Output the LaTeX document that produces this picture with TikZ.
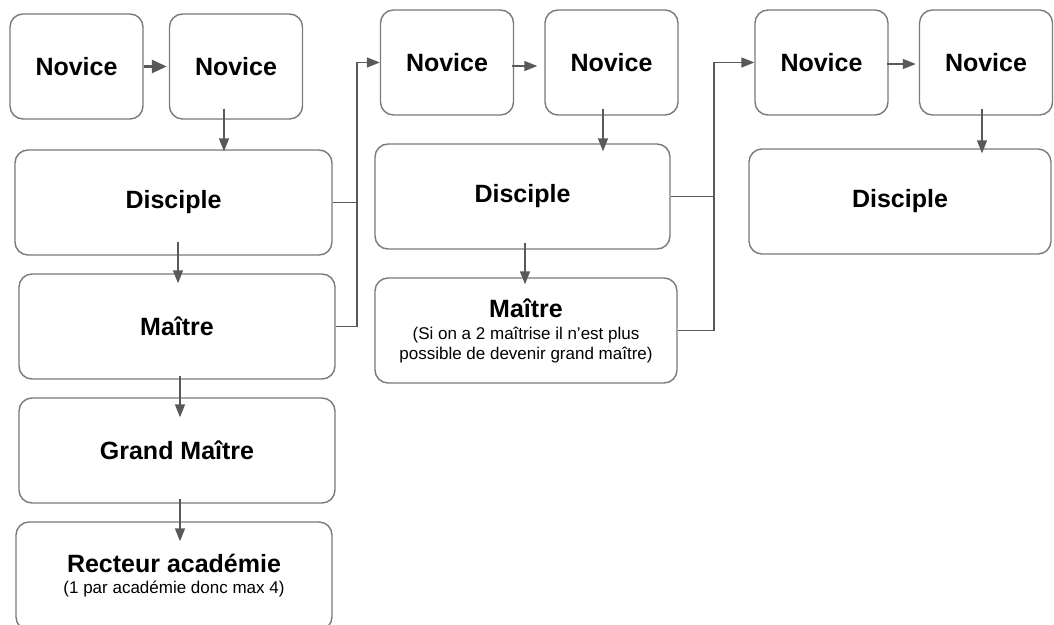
\documentclass[tikz,border=0pt]{standalone}
\usepackage{fontspec}
\setmainfont{Liberation Sans}
\usetikzlibrary{arrows.meta}

\definecolor{boxgray}{HTML}{7A7A7A}
\definecolor{arrgray}{HTML}{595959}

\newcommand{\subtxt}{\fontsize{17}{20}\selectfont\mdseries}

\begin{document}
\begin{tikzpicture}[x=1pt, y=-1pt,
    box/.style={draw=boxgray, line width=1.4pt, rounded corners=13pt,
      fill=white, inner sep=0pt, align=center,
      font=\fontsize{25}{30}\selectfont\bfseries},
    small/.style={box, minimum width=133pt, minimum height=105pt},
    wide/.style={box, minimum width=#1, minimum height=105pt},
    link/.style={draw=arrgray, line width=1.4pt},
    arr/.style={link, -{Triangle[length=13pt, width=10pt]}}]

  \useasboundingbox (0,0) rectangle (1054,624);

  \node[small] (nov1) at (76.5,66.5) {Novice};
  \node[small] (nov2) at (236,66.5) {Novice};
  \node[wide=317pt] (dis1) at (173.5,202.5) {Disciple};
  \node[wide=316pt] (mai1) at (177,326.5) {Maître};
  \node[wide=316pt] (gm1) at (177,450.5) {Grand Maître};
  \node[wide=316pt, minimum height=108pt] (rec1) at (174,576)
    {Recteur académie\\[-9pt]{\subtxt (1 par académie donc max 4)}};

  \node[small] (nov3) at (447,62.5) {Novice};
  \node[small] (nov4) at (611.5,62.5) {Novice};
  \node[wide=295pt] (dis2) at (522.5,196.5) {Disciple};
  \node[wide=302pt] (mai2) at (526,330.5)
    {Maître\\[-8pt]{\subtxt (Si on a 2 maîtrise il n’est plus}\\[-10pt]{\subtxt possible de devenir grand maître)}};

  \node[small] (nov5) at (821.5,62.5) {Novice};
  \node[small] (nov6) at (986,62.5) {Novice};
  \node[wide=302pt] (dis3) at (900,201.5) {Disciple};

  \coordinate (j1) at (357,202.5);
  \coordinate (j2) at (714,196.5);

  \draw[arr, line width=2.6pt, -{Triangle[length=15pt, width=13pt]}, shorten >=2pt]
    (nov1.east) -- (nov2.west);
  \draw[arr, shorten <=-11pt, shorten >=-2pt]
    ([xshift=-12pt]nov2.south) -- ([xshift=-12pt]nov2.south |- dis1.north);
  \draw[arr, shorten <=-14pt, shorten >=-10pt]
    ([xshift=4.5pt]dis1.south) -- ([xshift=4.5pt]dis1.south |- mai1.north);
  \draw[arr, shorten <=-4pt, shorten >=-20pt]
    ([xshift=3pt]mai1.south) -- ([xshift=3pt]mai1.south |- gm1.north);
  \draw[arr, shorten <=-5pt, shorten >=-20pt]
    ([xshift=3pt]gm1.south) -- ([xshift=3pt]gm1.south |- rec1.north);

  \draw[link] (mai1.east) -| (j1);
  \draw[arr] (dis1.east) -- (j1) |- (nov3.west);

  \draw[arr, shorten <=-2pt, shorten >=7pt]
    ([yshift=-3.5pt]nov3.east) -- ([yshift=-3.5pt]nov4.west);
  \draw[arr, shorten <=-7pt, shorten >=-8pt]
    ([xshift=-8.5pt]nov4.south) -- ([xshift=-8.5pt]nov4.south |- dis2.north);
  \draw[arr, shorten <=-7pt, shorten >=-7pt]
    ([xshift=2.5pt]dis2.south) -- ([xshift=2.5pt]dis2.south |- mai2.north);

  \draw[link] (mai2.east) -| (j2);
  \draw[arr] (dis2.east) -- (j2) |- (nov5.west);

  \draw[arr, shorten <=-2pt, shorten >=3pt]
    ([yshift=-1.5pt]nov5.east) -- ([yshift=-1.5pt]nov6.west);
  \draw[arr, shorten <=-7pt, shorten >=-5pt]
    ([xshift=-4pt]nov6.south) -- ([xshift=-4pt]nov6.south |- dis3.north);

\end{tikzpicture}
\end{document}
